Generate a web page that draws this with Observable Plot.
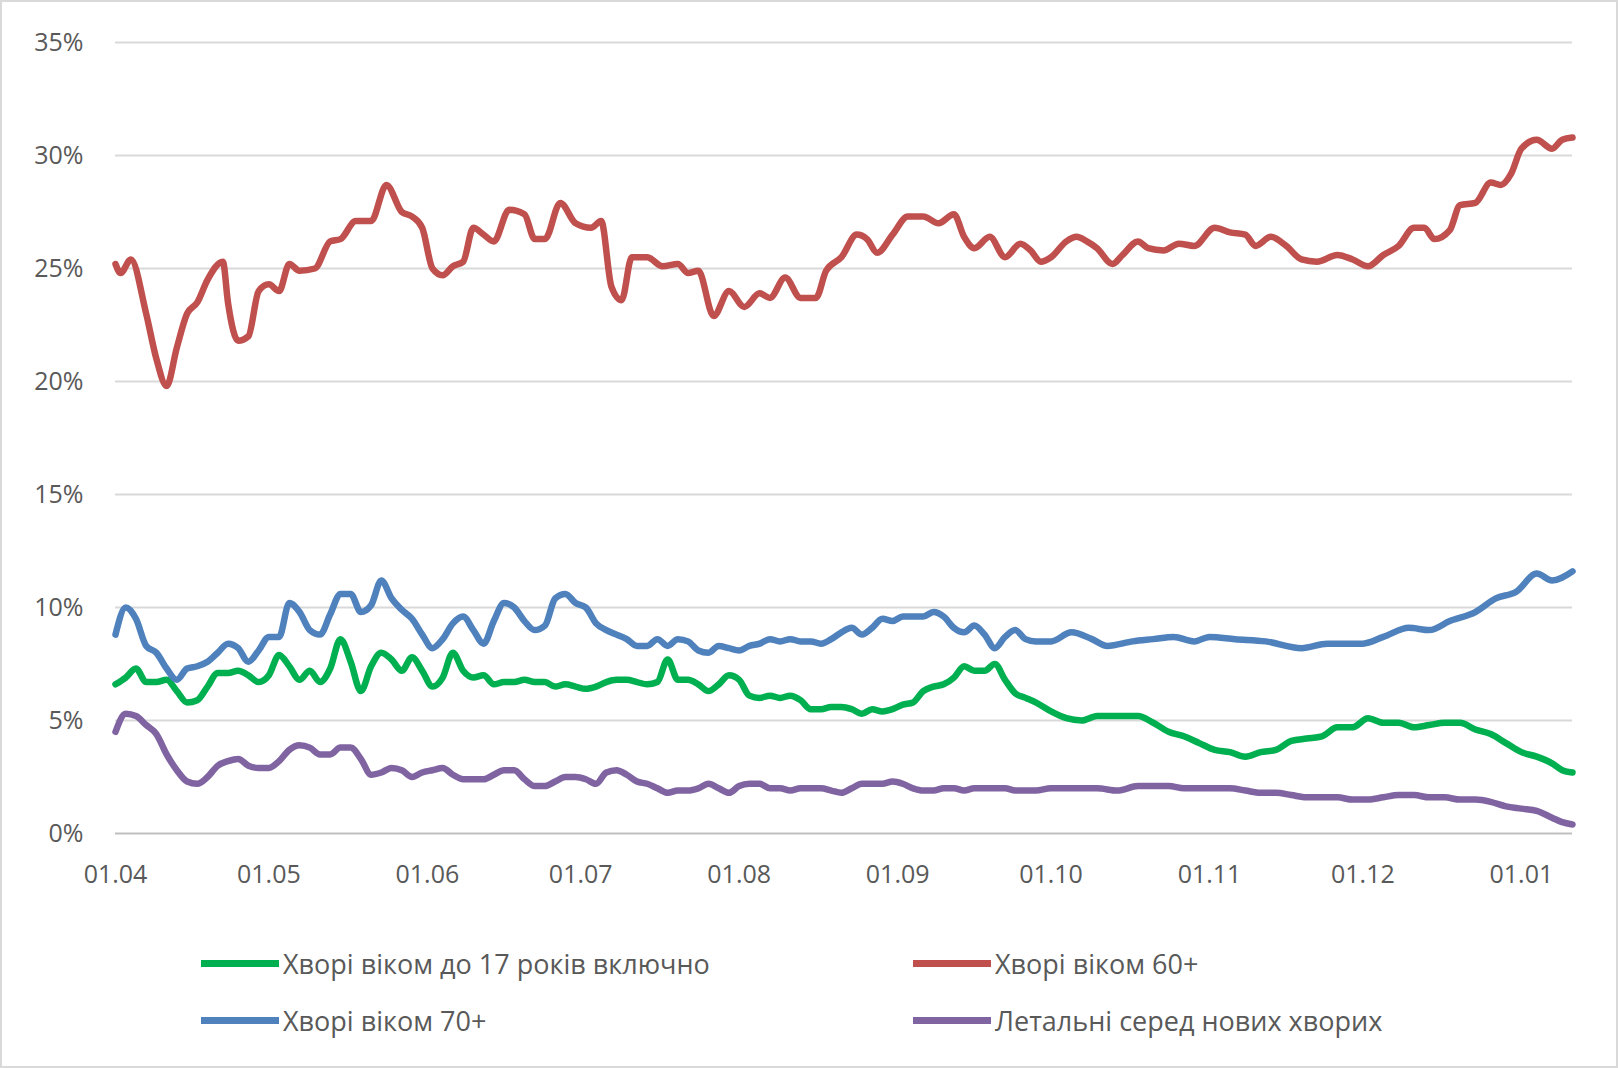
<!DOCTYPE html>
<html><head><meta charset="utf-8">
<script src="https://cdn.jsdelivr.net/npm/d3@7"></script>
<script src="https://cdn.jsdelivr.net/npm/@observablehq/plot@0.6"></script>
<style>
body{margin:0;background:#fff;font-family:"Open Sans",sans-serif;}
#frame{position:absolute;left:0;top:0;width:1614px;height:1064px;border:2px solid #d9d9d9;}
#chart{position:absolute;left:0;top:0;}
.leg{position:absolute;font-size:27px;color:#595959;display:flex;align-items:center;}
.sw{display:inline-block;width:78px;height:7px;margin-right:4px;}
</style></head><body>
<div id="frame"></div>
<div id="chart"></div>
<script>
// x = days since 01.04.2020
const tickDays = [0,30,61,91,122,153,183,214,244,275];
const tickLabels = ["01.04","01.05","01.06","01.07","01.08","01.09","01.10","01.11","01.12","01.01"];
const yTicks = [0,5,10,15,20,25,30,35];

const red = [[0,25.2],[1,24.8],[3,25.4],[6,23],[8,21],[10,19.8],[12,21.5],[14,23],[16,23.5],[18,24.5],[21,25.3],[22,23.5],[24,21.8],[26,22],[28,24],[30,24.3],[32,24],[34,25.2],[36,24.9],[39,25],[42,26.2],[44,26.3],[47,27.1],[50,27.1],[53,28.7],[56,27.5],[58,27.3],[60,26.8],[62,25],[64,24.7],[66,25.1],[68,25.3],[70,26.8],[72,26.5],[74,26.2],[77,27.6],[80,27.4],[82,26.3],[84,26.3],[87,27.9],[90,27],[93,26.8],[95,27.1],[97,24.2],[99,23.6],[101,25.5],[104,25.5],[107,25.1],[110,25.2],[112,24.8],[114,24.9],[117,22.9],[120,24],[123,23.3],[126,23.9],[128,23.7],[131,24.6],[134,23.7],[137,23.7],[139,24.9],[142,25.5],[145,26.5],[147,26.3],[149,25.7],[152,26.5],[155,27.3],[158,27.3],[161,27],[164,27.4],[166,26.4],[168,25.9],[171,26.4],[174,25.5],[177,26.1],[179,25.8],[181,25.3],[183,25.5],[186,26.2],[188,26.4],[190,26.2],[192,25.9],[195,25.2],[197,25.6],[200,26.2],[202,25.9],[205,25.8],[208,26.1],[211,26],[215,26.8],[218,26.6],[221,26.5],[223,26],[226,26.4],[229,26],[232,25.4],[235,25.3],[239,25.6],[242,25.4],[245,25.1],[248,25.6],[251,26],[254,26.8],[256,26.8],[258,26.3],[261,26.7],[263,27.8],[266,27.9],[269,28.8],[271,28.7],[273,29.2],[275,30.3],[278,30.7],[281,30.3],[283,30.7],[285,30.8]];

const blue = [[0,8.8],[2,10],[4,9.5],[6,8.3],[8,8],[10,7.3],[12,6.8],[14,7.3],[16,7.4],[18,7.6],[20,8],[22,8.4],[24,8.2],[26,7.6],[28,8.1],[30,8.7],[32,8.7],[34,10.2],[36,9.8],[38,9],[40,8.8],[42,9.7],[44,10.6],[46,10.6],[48,9.8],[50,10.1],[52,11.2],[54,10.4],[56,9.9],[58,9.5],[60,8.8],[62,8.2],[64,8.6],[66,9.3],[68,9.6],[70,9],[72,8.4],[74,9.4],[76,10.2],[78,10],[80,9.4],[82,9],[84,9.2],[86,10.4],[88,10.6],[90,10.2],[92,10],[94,9.3],[96,9],[98,8.8],[100,8.6],[102,8.3],[104,8.3],[106,8.6],[108,8.3],[110,8.6],[112,8.5],[114,8.1],[116,8],[118,8.3],[120,8.2],[122,8.1],[124,8.3],[126,8.4],[128,8.6],[130,8.5],[132,8.6],[134,8.5],[136,8.5],[138,8.4],[140,8.6],[142,8.9],[144,9.1],[146,8.8],[148,9.1],[150,9.5],[152,9.4],[154,9.6],[156,9.6],[158,9.6],[160,9.8],[162,9.6],[164,9.1],[166,8.9],[168,9.2],[170,8.8],[172,8.2],[174,8.7],[176,9],[178,8.6],[180,8.5],[183,8.5],[187,8.9],[191,8.6],[194,8.3],[199,8.5],[203,8.6],[207,8.7],[211,8.5],[214,8.7],[219,8.6],[225,8.5],[232,8.2],[237,8.4],[244,8.4],[248,8.7],[253,9.1],[257,9],[261,9.4],[266,9.8],[270,10.4],[274,10.7],[278,11.5],[281,11.2],[285,11.6]];

const green = [[0,6.6],[2,6.9],[4,7.3],[6,6.7],[8,6.7],[10,6.8],[12,6.3],[14,5.8],[16,5.9],[18,6.5],[20,7.1],[22,7.1],[24,7.2],[26,7],[28,6.7],[30,7],[32,7.9],[34,7.4],[36,6.8],[38,7.2],[40,6.7],[42,7.3],[44,8.6],[46,7.6],[48,6.3],[50,7.4],[52,8],[54,7.7],[56,7.2],[58,7.8],[60,7.2],[62,6.5],[64,6.9],[66,8],[68,7.2],[70,6.9],[72,7],[74,6.6],[76,6.7],[78,6.7],[80,6.8],[82,6.7],[84,6.7],[86,6.5],[88,6.6],[90,6.5],[92,6.4],[94,6.5],[96,6.7],[98,6.8],[100,6.8],[102,6.7],[104,6.6],[106,6.7],[108,7.7],[110,6.8],[112,6.8],[114,6.6],[116,6.3],[118,6.6],[120,7],[122,6.8],[124,6.1],[126,6],[128,6.1],[130,6],[132,6.1],[134,5.9],[136,5.5],[138,5.5],[140,5.6],[142,5.6],[144,5.5],[146,5.3],[148,5.5],[150,5.4],[152,5.5],[154,5.7],[156,5.8],[158,6.3],[160,6.5],[162,6.6],[164,6.9],[166,7.4],[168,7.2],[170,7.2],[172,7.5],[174,6.8],[176,6.2],[178,6],[180,5.8],[183,5.4],[186,5.1],[189,5],[192,5.2],[196,5.2],[200,5.2],[203,4.9],[206,4.5],[209,4.3],[212,4],[215,3.7],[218,3.6],[221,3.4],[224,3.6],[227,3.7],[230,4.1],[233,4.2],[236,4.3],[239,4.7],[242,4.7],[245,5.1],[248,4.9],[251,4.9],[254,4.7],[257,4.8],[260,4.9],[263,4.9],[266,4.6],[269,4.4],[272,4],[275,3.6],[278,3.4],[281,3.1],[283,2.8],[285,2.7]];

const purple = [[0,4.5],[2,5.3],[4,5.2],[6,4.8],[8,4.4],[10,3.5],[12,2.8],[14,2.3],[16,2.2],[18,2.5],[20,3],[22,3.2],[24,3.3],[26,3],[28,2.9],[30,2.9],[32,3.2],[34,3.7],[36,3.9],[38,3.8],[40,3.5],[42,3.5],[44,3.8],[46,3.8],[48,3.3],[50,2.6],[52,2.7],[54,2.9],[56,2.8],[58,2.5],[60,2.7],[62,2.8],[64,2.9],[66,2.6],[68,2.4],[70,2.4],[72,2.4],[74,2.6],[76,2.8],[78,2.8],[80,2.4],[82,2.1],[84,2.1],[86,2.3],[88,2.5],[90,2.5],[92,2.4],[94,2.2],[96,2.7],[98,2.8],[100,2.6],[102,2.3],[104,2.2],[106,2],[108,1.8],[110,1.9],[112,1.9],[114,2],[116,2.2],[118,2],[120,1.8],[122,2.1],[124,2.2],[126,2.2],[128,2],[130,2],[132,1.9],[134,2],[136,2],[138,2],[140,1.9],[142,1.8],[144,2],[146,2.2],[148,2.2],[150,2.2],[152,2.3],[154,2.2],[156,2],[158,1.9],[160,1.9],[162,2],[164,2],[166,1.9],[168,2],[170,2],[172,2],[174,2],[176,1.9],[178,1.9],[180,1.9],[183,2],[186,2],[189,2],[192,2],[196,1.9],[200,2.1],[203,2.1],[206,2.1],[209,2],[212,2],[215,2],[218,2],[221,1.9],[224,1.8],[227,1.8],[230,1.7],[233,1.6],[236,1.6],[239,1.6],[242,1.5],[245,1.5],[248,1.6],[251,1.7],[254,1.7],[257,1.6],[260,1.6],[263,1.5],[266,1.5],[269,1.4],[272,1.2],[275,1.1],[278,1],[281,0.7],[283,0.5],[285,0.4]];

const series = [
  {name:"Хворі віком до 17 років включно", data:green, color:"#00b050"},
  {name:"Хворі віком 60+", data:red, color:"#c0504d"},
  {name:"Хворі віком 70+", data:blue, color:"#4f81bd"},
  {name:"Летальні серед нових хворих", data:purple, color:"#8064a2"}
];

const lineMarks = series.map(s => Plot.line(s.data, {x:d=>d[0], y:d=>d[1], stroke:s.color, strokeWidth:6.5, curve:"monotone-x"}));

const chart = Plot.plot({
  width:1618, height:900,
  marginLeft:115, marginRight:46, marginTop:42, marginBottom:67,
  style:{fontFamily:"Open Sans, sans-serif", fontSize:"25px", color:"#595959", background:"transparent"},
  x:{domain:[0,285], ticks:tickDays, tickFormat:d=>tickLabels[tickDays.indexOf(d)], label:null, tickSize:0, tickPadding:32},
  y:{domain:[0,35], ticks:yTicks, tickFormat:d=>d+"%", label:null, tickSize:0, tickPadding:32},
  marks:[
    Plot.ruleY(yTicks.filter(d=>d>0), {stroke:"#d9d9d9", strokeWidth:2}),
    Plot.ruleY([0], {stroke:"#bfbfbf", strokeWidth:2}),
    ...lineMarks
  ]
});
document.getElementById("chart").appendChild(chart);

const pos = [[201,965],[913,965],[201,1022],[913,1022]];
series.forEach((s,i)=>{
  const d = document.createElement("div");
  d.className="leg";
  d.style.left=pos[i][0]+"px"; d.style.top=(pos[i][1]-20)+"px";
  d.innerHTML=`<span class="sw" style="background:${s.color}"></span>${s.name}`;
  document.body.appendChild(d);
});
</script>
</body></html>
